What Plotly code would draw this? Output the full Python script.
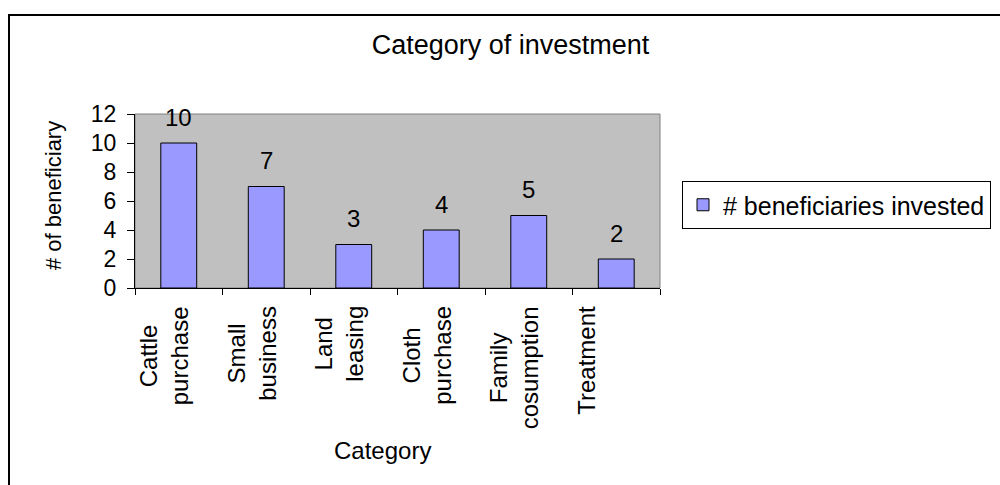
import plotly.graph_objects as go

# ---- data ----
categories = ["Cattle purchase", "Small business", "Land leasing",
              "Cloth purchase", "Family cosumption", "Treatment"]
tick_labels = ["Cattle<br>purchase", "Small<br>business", "Land<br>leasing",
               "Cloth<br>purchase", "Family<br>cosumption", "Treatment<br> "]
beneficiaries = [10, 7, 3, 4, 5, 2]
series_name = "# beneficiaries invested"
y_ticks = [0, 2, 4, 6, 8, 10, 12]

# ---- layout geometry (pixels) ----
W, H = 1000, 485
PL, PR, PT, PB = 135, 660, 114, 288   # plot area edges
FONT = "Liberation Sans, Arial, sans-serif"


def px_x(px):
    return (px - PL) / (PR - PL)


def px_y(py):
    return (PB - py) / (PB - PT)


fig = go.Figure()
fig.add_trace(go.Bar(
    x=categories, y=beneficiaries, name=series_name,
    marker=dict(color="#9999FF", line=dict(color="black", width=1)),
    width=0.41, showlegend=True,
))

annotations = []
# data labels
for c, v in zip(categories, beneficiaries):
    annotations.append(dict(x=c, y=v, xref="x", yref="y", text=str(v),
                            showarrow=False, yanchor="middle", yshift=26,
                            font=dict(size=24, color="black", family=FONT)))
# category labels (rotated, wrapped)
for c, t in zip(categories, tick_labels):
    annotations.append(dict(x=c, y=px_y(304), xref="x", yref="paper", text=t,
                            showarrow=False, textangle=-90, align="center",
                            xanchor="center", yanchor="top", xshift=-15,
                            font=dict(size=24, color="black", family=FONT)))
# axis titles
annotations.append(dict(x=px_x(382), y=px_y(450), xref="paper", yref="paper",
                        text="Category", showarrow=False, xanchor="center",
                        yanchor="middle",
                        font=dict(size=24, color="black", family=FONT)))
annotations.append(dict(x=px_x(53), y=px_y(196), xref="paper", yref="paper",
                        text="# of beneficiary", showarrow=False, textangle=-90,
                        xanchor="center", yanchor="middle",
                        font=dict(size=22, color="black", family=FONT)))

shapes = [
    # outer chart border
    dict(type="rect", xref="paper", yref="paper",
         x0=px_x(9), x1=px_x(1010), y0=px_y(495), y1=px_y(15),
         line=dict(color="black", width=2), layer="below"),
    # plot area border
    dict(type="rect", xref="paper", yref="paper",
         x0=0, x1=1, y0=0, y1=1,
         line=dict(color="#808080", width=1), layer="below"),
]

fig.update_layout(
    width=W, height=H,
    margin=dict(l=PL, r=W - PR, t=PT, b=H - PB, pad=0, autoexpand=False),
    paper_bgcolor="white", plot_bgcolor="#C0C0C0",
    font=dict(family=FONT, color="black"),
    title=dict(text="Category of investment", x=0.5105, xref="container",
               xanchor="center", y=1 - 45 / H, yanchor="middle",
               font=dict(size=27, color="black", family=FONT)),
    showlegend=True,
    legend=dict(x=px_x(682), y=px_y(181), xanchor="left", yanchor="top",
                bgcolor="white", bordercolor="black", borderwidth=1,
                font=dict(size=25, color="black", family=FONT)),
    bargap=0.59,
    xaxis=dict(type="category", showticklabels=False, ticks="outside",
               tickson="boundaries", ticklen=6, tickcolor="black",
               showline=True, linecolor="black", linewidth=1,
               showgrid=False, zeroline=False, range=[-0.5, 5.5]),
    yaxis=dict(range=[0, 12], tickvals=y_ticks, ticks="outside", ticklen=7,
               tickcolor="black", showline=True, linecolor="black", linewidth=1,
               showgrid=False, zeroline=False, ticklabelstandoff=6,
               tickfont=dict(size=23, color="black", family=FONT)),
    annotations=annotations,
    shapes=shapes,
)

fig.write_html("out.html")
